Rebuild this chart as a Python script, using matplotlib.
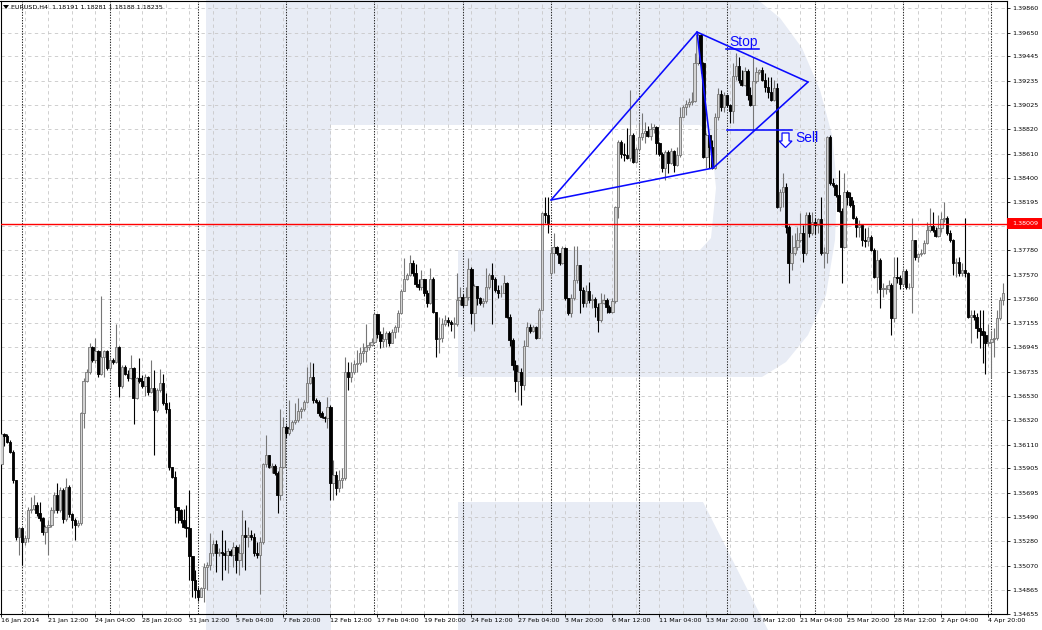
import numpy as np
import matplotlib
matplotlib.use("Agg")
import matplotlib.pyplot as plt
from matplotlib.patches import Rectangle, Polygon
from matplotlib.collections import LineCollection, PolyCollection
from matplotlib.transforms import Affine2D, blended_transform_factory
from matplotlib import font_manager as fm

# ---------------- data (EURUSD H4) ----------------
title_text = "EURUSD,H4  1.18191 1.18281 1.18188 1.18235"
first_open = 1.3594
gap_open = {187: 1.3758}   # Monday 3 Mar opening gap

close = [
1.3620, 1.3618, 1.3613, 1.3605, 1.3581, 1.3532, 1.3539, 1.3527, 1.3531, 1.3555,
1.3556, 1.3559, 1.3552, 1.3548, 1.3536, 1.3540, 1.3542, 1.3555, 1.3568, 1.3555,
1.3572, 1.3547, 1.3575, 1.3551, 1.3546, 1.3542, 1.3544, 1.3638, 1.3666, 1.3673,
1.3695, 1.3684, 1.3691, 1.3672, 1.3686, 1.3691, 1.3677, 1.3684, 1.3682, 1.3695,
1.3661, 1.3678, 1.3672, 1.3668, 1.3677, 1.3651, 1.3668, 1.3666, 1.3661, 1.3669,
1.3656, 1.3660, 1.3641, 1.3658, 1.3664, 1.3647, 1.3642, 1.3592, 1.3583, 1.3557,
1.3555, 1.3546, 1.3540, 1.3539, 1.3515, 1.3495, 1.3486, 1.3480, 1.3488, 1.3506,
1.3508, 1.3518, 1.3526, 1.3518, 1.3519, 1.3518, 1.3516, 1.3520, 1.3516, 1.3523,
1.3512, 1.3518, 1.3533, 1.3532, 1.3533, 1.3532, 1.3518, 1.3516, 1.3527, 1.3594,
1.3602, 1.3592, 1.3593, 1.3587, 1.3568, 1.3592, 1.3626, 1.3621, 1.3624, 1.3630,
1.3632, 1.3640, 1.3642, 1.3648, 1.3664, 1.3669, 1.3649, 1.3648, 1.3638, 1.3635,
1.3634, 1.3643, 1.3578, 1.3585, 1.3574, 1.3581, 1.3582, 1.3673, 1.3669, 1.3673,
1.3680, 1.3681, 1.3690, 1.3691, 1.3695, 1.3697, 1.3699, 1.3723, 1.3706, 1.3700,
1.3702, 1.3707, 1.3698, 1.3708, 1.3712, 1.3724, 1.3743, 1.3753, 1.3757, 1.3767,
1.3758, 1.3749, 1.3746, 1.3753, 1.3741, 1.3733, 1.3753, 1.3725, 1.3702, 1.3703,
1.3715, 1.3718, 1.3716, 1.3715, 1.3715, 1.3735, 1.3738, 1.3731, 1.3738, 1.3762,
1.3724, 1.3747, 1.3737, 1.3733, 1.3734, 1.3746, 1.3757, 1.3753, 1.3744, 1.3741,
1.3741, 1.3750, 1.3721, 1.3701, 1.3679, 1.3666, 1.3673, 1.3662, 1.3696, 1.3712,
1.3709, 1.3712, 1.3703, 1.3727, 1.3810, 1.3808, 1.3801, 1.3776, 1.3781, 1.3776,
1.3767, 1.3780, 1.3737, 1.3724, 1.3737, 1.3752, 1.3765, 1.3744, 1.3733, 1.3743,
1.3735, 1.3736, 1.3729, 1.3718, 1.3733, 1.3735, 1.3729, 1.3725, 1.3734, 1.3815,
1.3871, 1.3861, 1.3860, 1.3857, 1.3877, 1.3854, 1.3865, 1.3875, 1.3879, 1.3880,
1.3876, 1.3882, 1.3884, 1.3870, 1.3861, 1.3849, 1.3862, 1.3853, 1.3863, 1.3851,
1.3860, 1.3892, 1.3901, 1.3904, 1.3905, 1.3906, 1.3939, 1.3963, 1.3939, 1.3858,
1.3877, 1.3867, 1.3849, 1.3892, 1.3912, 1.3901, 1.3911, 1.3903, 1.3898, 1.3928,
1.3936, 1.3924, 1.3920, 1.3932, 1.3911, 1.3903, 1.3923, 1.3931, 1.3933, 1.3924,
1.3918, 1.3914, 1.3907, 1.3917, 1.3815, 1.3828, 1.3832, 1.3798, 1.3767, 1.3776,
1.3781, 1.3787, 1.3793, 1.3776, 1.3808, 1.3793, 1.3802, 1.3800, 1.3805, 1.3776,
1.3776, 1.3875, 1.3836, 1.3834, 1.3825, 1.3812, 1.3781, 1.3828, 1.3824, 1.3817,
1.3806, 1.3798, 1.3800, 1.3787, 1.3786, 1.3789, 1.3778, 1.3755, 1.3770, 1.3745,
1.3745, 1.3745, 1.3748, 1.3720, 1.3755, 1.3754, 1.3749, 1.3760, 1.3746, 1.3746,
1.3787, 1.3772, 1.3775, 1.3776, 1.3784, 1.3795, 1.3799, 1.3795, 1.3790, 1.3797,
1.3805, 1.3806, 1.3793, 1.3787, 1.3767, 1.3768, 1.3758, 1.3761, 1.3758, 1.3721,
1.3722, 1.3721, 1.3711, 1.3709, 1.3705, 1.3698, 1.3699, 1.3702, 1.3703, 1.3720,
1.3735, 1.3741]

high = [
1.3622, 1.3621, 1.3620, 1.3615, 1.3606, 1.3581, 1.3540, 1.3539, 1.3533, 1.3557,
1.3566, 1.3568, 1.3562, 1.3562, 1.3549, 1.3542, 1.3546, 1.3557, 1.3570, 1.3578,
1.3575, 1.3574, 1.3582, 1.3576, 1.3552, 1.3548, 1.3546, 1.3639, 1.3668, 1.3676,
1.3698, 1.3696, 1.3703, 1.3692, 1.3739, 1.3692, 1.3692, 1.3686, 1.3685, 1.3715,
1.3696, 1.3679, 1.3679, 1.3675, 1.3688, 1.3678, 1.3669, 1.3685, 1.3671, 1.3672,
1.3670, 1.3684, 1.3675, 1.3660, 1.3676, 1.3672, 1.3655, 1.3648, 1.3592, 1.3588,
1.3557, 1.3556, 1.3556, 1.3559, 1.3572, 1.3515, 1.3503, 1.3489, 1.3489, 1.3509,
1.3510, 1.3535, 1.3529, 1.3529, 1.3522, 1.3538, 1.3529, 1.3522, 1.3521, 1.3527,
1.3525, 1.3526, 1.3555, 1.3546, 1.3540, 1.3538, 1.3535, 1.3527, 1.3532, 1.3595,
1.3619, 1.3602, 1.3595, 1.3594, 1.3588, 1.3642, 1.3635, 1.3628, 1.3649, 1.3632,
1.3647, 1.3651, 1.3643, 1.3649, 1.3678, 1.3682, 1.3681, 1.3651, 1.3649, 1.3640,
1.3636, 1.3652, 1.3645, 1.3598, 1.3588, 1.3589, 1.3591, 1.3686, 1.3682, 1.3682,
1.3684, 1.3692, 1.3695, 1.3698, 1.3715, 1.3699, 1.3703, 1.3724, 1.3723, 1.3709,
1.3712, 1.3709, 1.3709, 1.3710, 1.3714, 1.3727, 1.3745, 1.3771, 1.3758, 1.3774,
1.3770, 1.3766, 1.3753, 1.3761, 1.3753, 1.3744, 1.3763, 1.3755, 1.3721, 1.3721,
1.3720, 1.3722, 1.3721, 1.3718, 1.3721, 1.3758, 1.3746, 1.3740, 1.3746, 1.3771,
1.3764, 1.3749, 1.3741, 1.3738, 1.3737, 1.3763, 1.3758, 1.3767, 1.3755, 1.3748,
1.3748, 1.3757, 1.3751, 1.3723, 1.3703, 1.3684, 1.3679, 1.3677, 1.3701, 1.3716,
1.3715, 1.3714, 1.3713, 1.3728, 1.3811, 1.3824, 1.3824, 1.3781, 1.3793, 1.3782,
1.3776, 1.3782, 1.3781, 1.3737, 1.3740, 1.3782, 1.3782, 1.3765, 1.3746, 1.3748,
1.3751, 1.3740, 1.3738, 1.3733, 1.3741, 1.3740, 1.3737, 1.3731, 1.3737, 1.3816,
1.3873, 1.3873, 1.3870, 1.3883, 1.3916, 1.3879, 1.3867, 1.3888, 1.3896, 1.3888,
1.3885, 1.3887, 1.3886, 1.3885, 1.3871, 1.3862, 1.3864, 1.3864, 1.3866, 1.3864,
1.3867, 1.3901, 1.3903, 1.3907, 1.3909, 1.3914, 1.3947, 1.3965, 1.3964, 1.3940,
1.3879, 1.3875, 1.3873, 1.3896, 1.3917, 1.3916, 1.3914, 1.3911, 1.3904, 1.3939,
1.3947, 1.3944, 1.3933, 1.3935, 1.3934, 1.3918, 1.3944, 1.3935, 1.3934, 1.3935,
1.3930, 1.3927, 1.3927, 1.3924, 1.3922, 1.3831, 1.3844, 1.3836, 1.3800, 1.3791,
1.3793, 1.3798, 1.3810, 1.3800, 1.3811, 1.3811, 1.3811, 1.3806, 1.3806, 1.3824,
1.3781, 1.3876, 1.3877, 1.3840, 1.3835, 1.3847, 1.3814, 1.3844, 1.3830, 1.3828,
1.3821, 1.3807, 1.3804, 1.3800, 1.3797, 1.3798, 1.3791, 1.3780, 1.3778, 1.3771,
1.3750, 1.3748, 1.3752, 1.3750, 1.3772, 1.3772, 1.3757, 1.3763, 1.3762, 1.3750,
1.3806, 1.3787, 1.3776, 1.3779, 1.3787, 1.3802, 1.3814, 1.3811, 1.3798, 1.3808,
1.3811, 1.3819, 1.3807, 1.3795, 1.3788, 1.3771, 1.3772, 1.3767, 1.3806, 1.3759,
1.3727, 1.3727, 1.3724, 1.3727, 1.3727, 1.3709, 1.3715, 1.3709, 1.3711, 1.3727,
1.3738, 1.3750]

low = [
1.3592, 1.3610, 1.3612, 1.3604, 1.3578, 1.3529, 1.3516, 1.3508, 1.3525, 1.3527,
1.3552, 1.3555, 1.3550, 1.3545, 1.3533, 1.3526, 1.3516, 1.3540, 1.3552, 1.3552,
1.3553, 1.3544, 1.3545, 1.3549, 1.3539, 1.3529, 1.3540, 1.3542, 1.3625, 1.3665,
1.3672, 1.3682, 1.3681, 1.3669, 1.3671, 1.3669, 1.3675, 1.3674, 1.3680, 1.3681,
1.3652, 1.3660, 1.3671, 1.3666, 1.3667, 1.3629, 1.3650, 1.3664, 1.3660, 1.3653,
1.3654, 1.3655, 1.3602, 1.3639, 1.3656, 1.3645, 1.3638, 1.3589, 1.3582, 1.3544,
1.3544, 1.3544, 1.3539, 1.3532, 1.3495, 1.3480, 1.3479, 1.3477, 1.3480, 1.3476,
1.3486, 1.3503, 1.3515, 1.3502, 1.3515, 1.3495, 1.3503, 1.3501, 1.3515, 1.3506,
1.3501, 1.3499, 1.3506, 1.3503, 1.3523, 1.3529, 1.3515, 1.3514, 1.3483, 1.3526,
1.3592, 1.3591, 1.3587, 1.3585, 1.3552, 1.3563, 1.3591, 1.3617, 1.3619, 1.3623,
1.3629, 1.3630, 1.3634, 1.3640, 1.3647, 1.3663, 1.3647, 1.3647, 1.3636, 1.3634,
1.3630, 1.3625, 1.3563, 1.3563, 1.3568, 1.3570, 1.3574, 1.3581, 1.3658, 1.3665,
1.3672, 1.3673, 1.3679, 1.3682, 1.3682, 1.3692, 1.3696, 1.3698, 1.3703, 1.3694,
1.3695, 1.3695, 1.3696, 1.3698, 1.3703, 1.3708, 1.3723, 1.3743, 1.3752, 1.3756,
1.3756, 1.3746, 1.3744, 1.3744, 1.3739, 1.3729, 1.3732, 1.3724, 1.3686, 1.3690,
1.3699, 1.3713, 1.3713, 1.3709, 1.3703, 1.3713, 1.3731, 1.3729, 1.3733, 1.3735,
1.3715, 1.3709, 1.3731, 1.3731, 1.3729, 1.3733, 1.3745, 1.3715, 1.3742, 1.3737,
1.3738, 1.3741, 1.3720, 1.3696, 1.3675, 1.3656, 1.3649, 1.3645, 1.3658, 1.3705,
1.3707, 1.3708, 1.3702, 1.3703, 1.3727, 1.3801, 1.3793, 1.3756, 1.3758, 1.3774,
1.3765, 1.3766, 1.3735, 1.3722, 1.3721, 1.3735, 1.3750, 1.3724, 1.3729, 1.3729,
1.3733, 1.3728, 1.3721, 1.3708, 1.3716, 1.3732, 1.3724, 1.3724, 1.3724, 1.3733,
1.3806, 1.3857, 1.3855, 1.3856, 1.3855, 1.3853, 1.3853, 1.3864, 1.3873, 1.3870,
1.3875, 1.3873, 1.3879, 1.3861, 1.3859, 1.3845, 1.3838, 1.3844, 1.3852, 1.3845,
1.3850, 1.3858, 1.3892, 1.3894, 1.3901, 1.3903, 1.3905, 1.3937, 1.3930, 1.3857,
1.3849, 1.3849, 1.3848, 1.3848, 1.3890, 1.3898, 1.3897, 1.3901, 1.3887, 1.3887,
1.3924, 1.3922, 1.3919, 1.3919, 1.3907, 1.3902, 1.3881, 1.3922, 1.3929, 1.3923,
1.3914, 1.3909, 1.3906, 1.3906, 1.3814, 1.3812, 1.3815, 1.3793, 1.3750, 1.3761,
1.3774, 1.3778, 1.3785, 1.3768, 1.3774, 1.3789, 1.3791, 1.3792, 1.3793, 1.3774,
1.3763, 1.3767, 1.3834, 1.3832, 1.3824, 1.3811, 1.3750, 1.3780, 1.3817, 1.3815,
1.3805, 1.3789, 1.3789, 1.3782, 1.3781, 1.3782, 1.3777, 1.3754, 1.3741, 1.3728,
1.3738, 1.3740, 1.3742, 1.3705, 1.3716, 1.3750, 1.3745, 1.3748, 1.3745, 1.3745,
1.3724, 1.3770, 1.3768, 1.3773, 1.3775, 1.3783, 1.3794, 1.3794, 1.3789, 1.3789,
1.3794, 1.3802, 1.3791, 1.3785, 1.3757, 1.3755, 1.3756, 1.3756, 1.3755, 1.3720,
1.3698, 1.3718, 1.3703, 1.3694, 1.3681, 1.3672, 1.3696, 1.3668, 1.3686, 1.3701,
1.3718, 1.3731]

x_labels = ["16 Jan 2014", "21 Jan 12:00", "24 Jan 04:00", "28 Jan 20:00",
            "31 Jan 12:00", "5 Feb 04:00", "7 Feb 20:00", "12 Feb 12:00",
            "17 Feb 04:00", "19 Feb 20:00", "24 Feb 12:00", "27 Feb 04:00",
            "3 Mar 20:00", "6 Mar 12:00", "11 Mar 04:00", "13 Mar 20:00",
            "18 Mar 12:00", "21 Mar 04:00", "25 Mar 20:00", "28 Mar 12:00",
            "2 Apr 04:00", "4 Apr 20:00"]
bars_per_label = 16
week_starts = [7, 37, 67, 97, 127, 157, 187, 217, 247, 277, 307, 337]
price_ticks = [1.39860, 1.39650, 1.39445, 1.39235, 1.39025, 1.38820, 1.38610,
               1.38400, 1.38195, 1.37985, 1.37780, 1.37570, 1.37360, 1.37155,
               1.36945, 1.36735, 1.36530, 1.36320, 1.36110, 1.35905, 1.35695,
               1.35490, 1.35280, 1.35070, 1.34865, 1.34655]
level_price = 1.38009

# drawn objects (bar index, price)
pattern_bar = [187.1, 236.8, 274.6, 242.3]          # A, B, C, D
pattern_price = [1.38211, 1.39654, 1.39225, 1.38486]
stop_bars, stop_price = (246.7, 258.0), 1.39508
sell_bars, sell_price = (246.9, 269.1), 1.38812
stop_text_pos = (247.7, 1.39530)
sell_text_pos = (270.2, 1.38709)
arrow_bar = [265.74, 268.13, 268.13, 269.15, 266.93, 264.72, 265.74]
arrow_price = [1.38787, 1.38787, 1.38718, 1.38718, 1.38662, 1.38718, 1.38718]

# ---------------- figure ----------------
W, H = 1042, 630
fig = plt.figure(figsize=(W / 100, H / 100), dpi=100)
fig.patch.set_facecolor("white")
pix = Affine2D().scale(1.0 / W, -1.0 / H).translate(0, 1) + fig.transFigure

names = {f.name for f in fm.fontManager.ttflist}
if "Liberation Sans Narrow" in names:
    LF, LS = "Liberation Sans Narrow", 5.6
else:
    LF, LS = "DejaVu Sans", 4.6

# watermark "R"
wm = "#e8ecf5"
fig.add_artist(Rectangle((206, 0), 125, 630, transform=pix, facecolor=wm,
                         edgecolor="none", zorder=-5))
bowl = [(331, 0), (758, 0), (780, 18), (802, 48), (820, 90), (832, 135),
        (837, 185), (835, 240), (826, 295), (808, 335), (786, 362), (762, 377),
        (458, 377), (458, 250), (700, 250), (711, 238), (716, 188), (711, 137),
        (700, 125), (331, 125)]
fig.add_artist(Polygon(bowl, closed=True, transform=pix, facecolor=wm,
                       edgecolor="none", zorder=-5))
leg = [(458, 502), (703, 502), (768, 630), (458, 630)]
fig.add_artist(Polygon(leg, closed=True, transform=pix, facecolor=wm,
                       edgecolor="none", zorder=-5))

# axes placement (pixel geometry of the chart window)
left_px, right_px, top_px, bot_px = 0.5, 1007.0, 0.5, 614.0
ax = fig.add_axes([left_px / W, (H - bot_px) / H, (right_px - left_px) / W,
                   (bot_px - top_px) / H])
ax.set_facecolor("none")
bar_px = 2.9375
bar0_px = 1.4
ax.set_xlim((left_px - bar0_px) / bar_px, (right_px - bar0_px) / bar_px)
ax.set_ylim(1.34655, 1.39925)

# grid
n = len(close)
for p in price_ticks:
    ax.axhline(p, color="#c8c8c8", lw=0.6, ls=(0, (4, 4)), zorder=1)
for k in range(0, n, 8):
    ax.axvline(k, color="#c8c8c8", lw=0.6, ls=(0, (4, 4)), zorder=1)
for k in week_starts:
    ax.axvline(k, color="#2a2a2a", lw=0.75, ls=(0, (1.3, 1.3)), zorder=1)

# candles
c = np.array(close)
hi = np.array(high)
lo = np.array(low)
o = np.empty(n)
o[0] = first_open
o[1:] = c[:-1]
for k, v in gap_open.items():
    o[k] = v
idx = np.arange(n)
top = np.maximum(np.maximum(o, c), hi)
bot = np.minimum(np.minimum(o, c), lo)
bull = c >= o
wick_segs = [[(i, bot[i]), (i, top[i])] for i in idx]
wick_cols = ["#767676" if bull[i] else "#000000" for i in idx]
ax.add_collection(LineCollection(wick_segs, colors=wick_cols, linewidths=0.8,
                                 zorder=2))
bw = 0.40
verts = []
faces = []
edges = []
for i in idx:
    y0, y1 = min(o[i], c[i]), max(o[i], c[i])
    if y1 - y0 < 0.00005:
        y1 = y0 + 0.00005
    verts.append([(i - bw, y0), (i + bw, y0), (i + bw, y1), (i - bw, y1)])
    if bull[i]:
        faces.append("#d2d2d2"); edges.append("#767676")
    else:
        faces.append("#000000"); edges.append("#000000")
ax.add_collection(PolyCollection(verts, facecolors=faces, edgecolors=edges,
                                 linewidths=0.6, zorder=3))

# horizontal level
ax.axhline(level_price, color="#ff0000", lw=1.0, zorder=5)

# pattern lines
blue = "#0a0aff"
A, B, C, D = [(pattern_bar[k], pattern_price[k]) for k in range(4)]
for p, q in [(A, B), (B, C), (C, D), (D, A), (B, D)]:
    ax.plot([p[0], q[0]], [p[1], q[1]], color=blue, lw=1.15, zorder=6,
            solid_capstyle="round")
ax.plot(stop_bars, [stop_price, stop_price], color=blue, lw=1.15, zorder=6)
ax.plot(sell_bars, [sell_price, sell_price], color=blue, lw=1.15, zorder=6)
ax.text(stop_text_pos[0], stop_text_pos[1], "Stop", color=blue,
        fontsize=10, family="Liberation Sans", ha="left", va="baseline",
        zorder=7)
ax.text(sell_text_pos[0], sell_text_pos[1], "Sell", color=blue,
        fontsize=10, family="Liberation Sans", ha="left", va="baseline",
        zorder=7)
ax.add_patch(Polygon(list(zip(arrow_bar, arrow_price)), closed=True,
                     facecolor="white", edgecolor=blue, lw=0.9, zorder=7))

# axes styling
for s in ax.spines.values():
    s.set_color("black")
    s.set_linewidth(0.8)
ax.yaxis.tick_right()
ax.set_yticks(price_ticks)
ax.set_yticklabels([f"{p:.5f}" for p in price_ticks], fontsize=LS, family=LF)
ax.set_xticks(list(range(0, bars_per_label * len(x_labels), bars_per_label)))
ax.set_xticklabels(x_labels, fontsize=LS, family=LF, ha="left")
ax.tick_params(axis="y", length=2.4, width=0.6, pad=1.4, colors="black")
ax.tick_params(axis="x", length=2.4, width=0.6, pad=0.6, colors="black")

# level price tag on the axis
bt = blended_transform_factory(pix, ax.transData)
tag_h = 11 * (1.39925 - 1.34655) / (bot_px - top_px)
fig.add_artist(Rectangle((1007, level_price - tag_h / 2), 35, tag_h,
                         transform=bt, facecolor="#ff0000", edgecolor="none",
                         zorder=10))
fig.add_artist(plt.Text(1012.5, level_price, f"{level_price:.5f}",
                        transform=bt, color="white", fontsize=LS, family=LF,
                        ha="left", va="center", zorder=11))

# title
fig.add_artist(Polygon([(3, 5), (9, 5), (6, 9)], closed=True, transform=pix,
                       facecolor="black", edgecolor="none", zorder=12))
fig.text(11 / W, 1 - 7.5 / H, title_text, fontsize=LS, family=LF,
         ha="left", va="center", color="black", zorder=12)

fig.savefig("out.png", dpi=100, facecolor="white")
